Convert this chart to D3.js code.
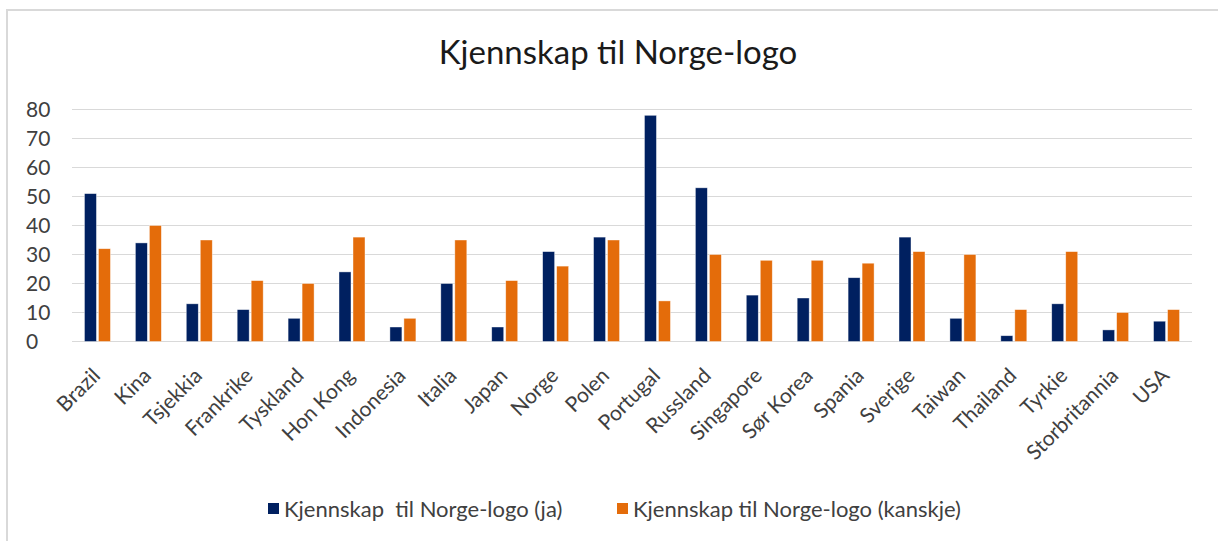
<!doctype html>
<html lang="no">
<head>
    <meta charset="utf-8">
    <title>Kjennskap til Norge-logo</title>
    <style>
        html, body {
            margin: 0;
            padding: 0;
            background-color: white;
        }

        svg {
            display: block;
            font-family: Lato, "Open Sans", sans-serif;
        }
    </style>
</head>
<body>
    <svg width="1218" height="541"></svg>

    <script src="https://cdn.jsdelivr.net/npm/d3@7"></script>
    <script>
        // data
        var categories = ["Brazil", "Kina", "Tsjekkia", "Frankrike", "Tyskland", "Hon Kong", "Indonesia",
            "Italia", "Japan", "Norge", "Polen", "Portugal", "Russland", "Singapore", "Sør Korea",
            "Spania", "Sverige", "Taiwan", "Thailand", "Tyrkie", "Storbritannia", "USA"];
        var ja = [51, 34, 13, 11, 8, 24, 5, 20, 5, 31, 36, 78, 53, 16, 15, 22, 36, 8, 2, 13, 4, 7];
        var kanskje = [32, 40, 35, 21, 20, 36, 8, 35, 21, 26, 35, 14, 30, 28, 28, 27, 31, 30, 11, 31, 10, 11];
        var seriesNames = ["Kjennskap\u00a0 til Norge-logo (ja)", "Kjennskap til Norge-logo (kanskje)"];
        var colors = ["#002060", "#E46C0A"];
        var yTicks = [0, 10, 20, 30, 40, 50, 60, 70, 80];

        var svg = d3.select("svg");

        // chart border
        svg.append("rect")
            .attr("x", 7)
            .attr("y", 10)
            .attr("width", 1230)
            .attr("height", 560)
            .attr("fill", "none")
            .attr("stroke", "#d9d9d9")
            .attr("stroke-width", 2);

        svg.append("text")
            .attr("x", 618)
            .attr("y", 64)
            .attr("text-anchor", "middle")
            .attr("font-size", 33)
            .attr("fill", "#1a1a1a")
            .text("Kjennskap til Norge-logo");

        var x = d3.scaleBand()
            .domain(categories)
            .range([72, 1192]);

        var y = d3.scaleLinear()
            .domain([0, 80])
            .range([341.5, 109.5]);

        // gridlines
        svg.append("g")
            .selectAll("line")
            .data(yTicks)
            .enter().append("line")
            .attr("x1", 72)
            .attr("x2", 1192)
            .attr("y1", function(d) { return y(d); })
            .attr("y2", function(d) { return y(d); })
            .attr("stroke", "#d9d9d9")
            .attr("stroke-width", 1.2);

        // y labels
        svg.append("g")
            .selectAll("text")
            .data(yTicks)
            .enter().append("text")
            .attr("x", 26)
            .attr("y", function(d) { return y(d); })
            .attr("dy", "0.36em")
            .attr("font-size", 21)
            .attr("fill", "#404040")
            .text(function(d) { return d; });

        var barW = 12;
        var gap = 2;

        var groups = svg.append("g")
            .selectAll("g")
            .data(categories)
            .enter().append("g")
            .attr("transform", function(d) {
                return "translate(" + (x(d) + x.bandwidth() / 2) + ",0)";
            });

        [ja, kanskje].forEach(function(vals, s) {
            groups.append("rect")
                .attr("x", function(d, i) { return s === 0 ? -barW - gap / 2 : gap / 2; })
                .attr("y", function(d, i) { return y(vals[i]); })
                .attr("width", barW)
                .attr("height", function(d, i) { return y(0) - y(vals[i]); })
                .attr("fill", colors[s])
                .attr("stroke", "white")
                .attr("stroke-opacity", 0.6)
                .attr("stroke-width", 0.7);
        });

        // x labels, rotated
        groups.append("text")
            .attr("transform", "translate(4,377) rotate(-45)")
            .attr("text-anchor", "end")
            .attr("font-size", 21)
            .attr("fill", "#404040")
            .text(function(d) { return d; });

        // legend
        var legend = svg.append("g")
            .selectAll("g")
            .data(seriesNames)
            .enter().append("g")
            .attr("transform", function(d, i) {
                return "translate(" + (i === 0 ? 268 : 617) + ",509)";
            });

        legend.append("rect")
            .attr("x", 0)
            .attr("y", -6)
            .attr("width", 11)
            .attr("height", 11)
            .attr("fill", function(d, i) { return colors[i]; });

        legend.append("text")
            .attr("x", 16)
            .attr("y", 0)
            .attr("dy", "0.36em")
            .attr("font-size", 22)
            .attr("fill", "#404040")
            .text(function(d) { return d; });
    </script>
</body>
</html>
